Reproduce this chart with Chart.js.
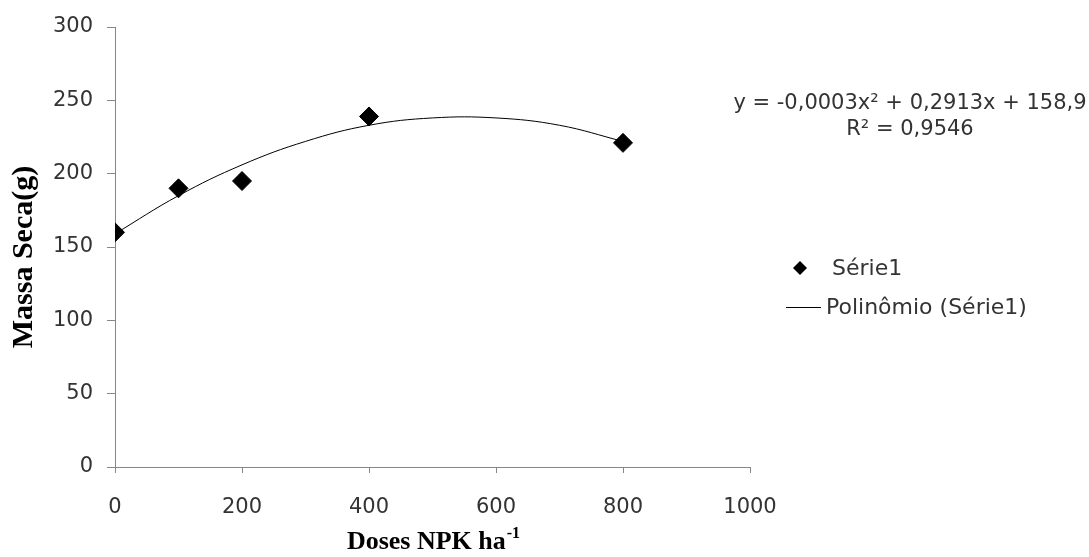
<!DOCTYPE html>
<html lang="pt">
<head>
    <meta charset="UTF-8">
    <title>Massa Seca x Doses NPK</title>
    <script src="https://cdn.jsdelivr.net/npm/chart.js"></script>
    <style>
        html, body { margin: 0; padding: 0; background: #fff; }
        #wrap { width: 1089px; height: 557px; }
    </style>
</head>
<body>
    <div id="wrap"><canvas id="massaChart" width="1089" height="557"></canvas></div>
    <script>
        // observed points
        const doses = [0, 100, 200, 400, 800];
        const massaSeca = [160, 190, 195, 239, 221];
        // trendline
        const trendDoses = [0, 100, 200, 300, 400, 500, 600, 700, 800];
        const trendMassa = [159, 185, 206, 222, 233, 238, 238, 233, 222];
        const equationLines = ['y = -0,0003x² + 0,2913x + 158,9', 'R² = 0,9546'];
        const legendLabels = ['Série1', 'Polinômio (Série1)'];

        const tickFont = { family: 'DejaVu Sans', size: 21 };
        const axisGray = '#868686';

        // equation, legend and axis titles drawn on top
        const extrasPlugin = {
            id: 'extrasPlugin',
            afterDraw: (chart) => {
                const ctx = chart.ctx;
                ctx.save();
                ctx.fillStyle = '#333';
                ctx.font = '21px "DejaVu Sans"';
                ctx.textAlign = 'center';
                ctx.textBaseline = 'middle';
                ctx.fillText(equationLines[0], 910, 104);
                ctx.fillText(equationLines[1], 910, 130);

                // legend
                ctx.textAlign = 'left';
                ctx.fillStyle = '#000';
                ctx.beginPath();
                ctx.moveTo(800, 261); ctx.lineTo(807, 268); ctx.lineTo(800, 275); ctx.lineTo(793, 268);
                ctx.closePath();
                ctx.fill();
                ctx.fillStyle = '#333';
                ctx.font = '22px "DejaVu Sans"';
                ctx.fillText(legendLabels[0], 832, 269);
                ctx.strokeStyle = '#000';
                ctx.lineWidth = 1;
                ctx.beginPath();
                ctx.moveTo(786, 307.5); ctx.lineTo(821, 307.5);
                ctx.stroke();
                ctx.fillText(legendLabels[1], 826, 308);

                // y axis title
                ctx.fillStyle = '#000';
                ctx.save();
                ctx.translate(24, 257);
                ctx.rotate(-Math.PI / 2);
                ctx.textAlign = 'center';
                ctx.font = 'bold 30px "Liberation Serif"';
                ctx.fillText('Massa Seca(g)', 0, 0);
                ctx.restore();

                // x axis title with superscript
                ctx.textAlign = 'left';
                ctx.font = 'bold 26px "Liberation Serif"';
                const main = 'Doses NPK ha';
                ctx.textBaseline = 'alphabetic';
                const w1 = ctx.measureText(main).width;
                ctx.font = 'bold 16px "Liberation Serif"';
                const w2 = ctx.measureText('-1').width;
                const x0 = 433 - (w1 + w2) / 2;
                ctx.font = 'bold 26px "Liberation Serif"';
                ctx.fillText(main, x0, 549);
                ctx.font = 'bold 16px "Liberation Serif"';
                ctx.fillText('-1', x0 + w1 + 1, 538);
                ctx.restore();
            }
        };

        const ctx = document.getElementById('massaChart').getContext('2d');
        const massaChart = new Chart(ctx, {
            type: 'scatter',
            data: {
                datasets: [{
                    label: legendLabels[0],
                    data: doses.map((d, i) => ({ x: d, y: massaSeca[i] })),
                    pointStyle: 'rectRot',
                    pointRadius: 9.5,
                    pointHoverRadius: 9.5,
                    backgroundColor: '#000',
                    borderColor: '#000',
                    order: 1
                }, {
                    label: legendLabels[1],
                    data: trendDoses.map((d, i) => ({ x: d, y: trendMassa[i] })),
                    showLine: true,
                    pointRadius: 0,
                    borderColor: '#000',
                    borderWidth: 1,
                    tension: 0.4,
                    order: 2
                }]
            },
            options: {
                responsive: false,
                animation: false,
                layout: { padding: { top: 27, right: 339, left: 0, bottom: 0 } },
                scales: {
                    x: {
                        type: 'linear',
                        min: 0,
                        max: 1000,
                        ticks: { stepSize: 200, color: '#333', font: tickFont, padding: 22, callback: (v) => String(v) },
                        grid: { drawOnChartArea: false, tickLength: 6, color: axisGray },
                        border: { color: axisGray },
                        afterFit: (scale) => { scale.height = 90; }
                    },
                    y: {
                        min: 0,
                        max: 300,
                        ticks: { stepSize: 50, color: '#333', font: tickFont, padding: 14, callback: (v) => String(v) },
                        grid: { drawOnChartArea: false, tickLength: 8, color: axisGray },
                        border: { color: axisGray },
                        afterFit: (scale) => { scale.width = 115; }
                    }
                },
                plugins: {
                    legend: { display: false },
                    tooltip: { enabled: false }
                }
            },
            plugins: [extrasPlugin]
        });
    </script>
</body>
</html>
